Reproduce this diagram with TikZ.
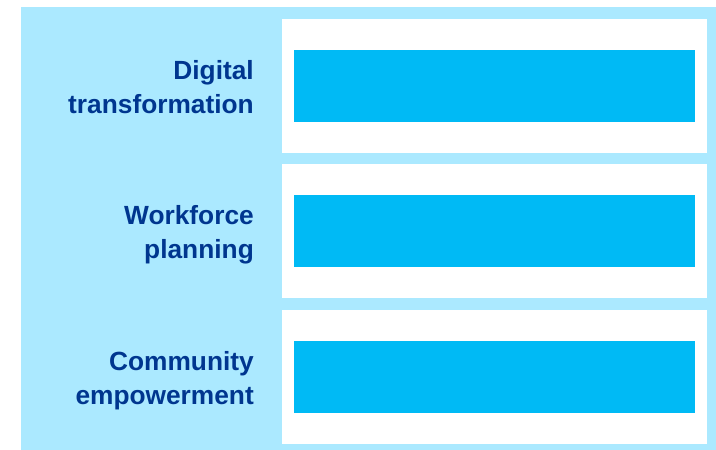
\documentclass[tikz,border=0pt]{standalone}
\usepackage{fontspec}
\setmainfont{Liberation Sans}

\definecolor{skyback}{RGB}{171,233,255}
\definecolor{barblue}{RGB}{0,186,245}
\definecolor{topicnavy}{RGB}{0,54,143}

\tikzset{
  panel/.style={fill=white, minimum width=425pt, minimum height=134pt, inner sep=0pt},
  barbox/.style={fill=barblue, minimum width=401pt, minimum height=72pt, inner sep=0pt},
  topic/.style={anchor=base east, align=right, inner sep=0pt, text=topicnavy,
    font=\fontsize{26.3}{34}\selectfont\bfseries}
}

\begin{document}
\begin{tikzpicture}[x=1pt, y=-1pt]
  \useasboundingbox (0,0) rectangle (716,450);
  % background band
  \fill[skyback] (21,7) rectangle (716,450);

  \foreach \name/\cy/\txt in {digital/86/{Digital\\transformation},
                              workforce/231/{Workforce\\planning},
                              community/377/{Community\\empowerment}} {
    \node[panel] (panel-\name) at (494.5,\cy) {};
    \node[barbox] (bar-\name) at (panel-\name.center) {};
    \node[topic] (topic-\name) at (254,\cy+27) {\txt};
  }
\end{tikzpicture}
\end{document}
